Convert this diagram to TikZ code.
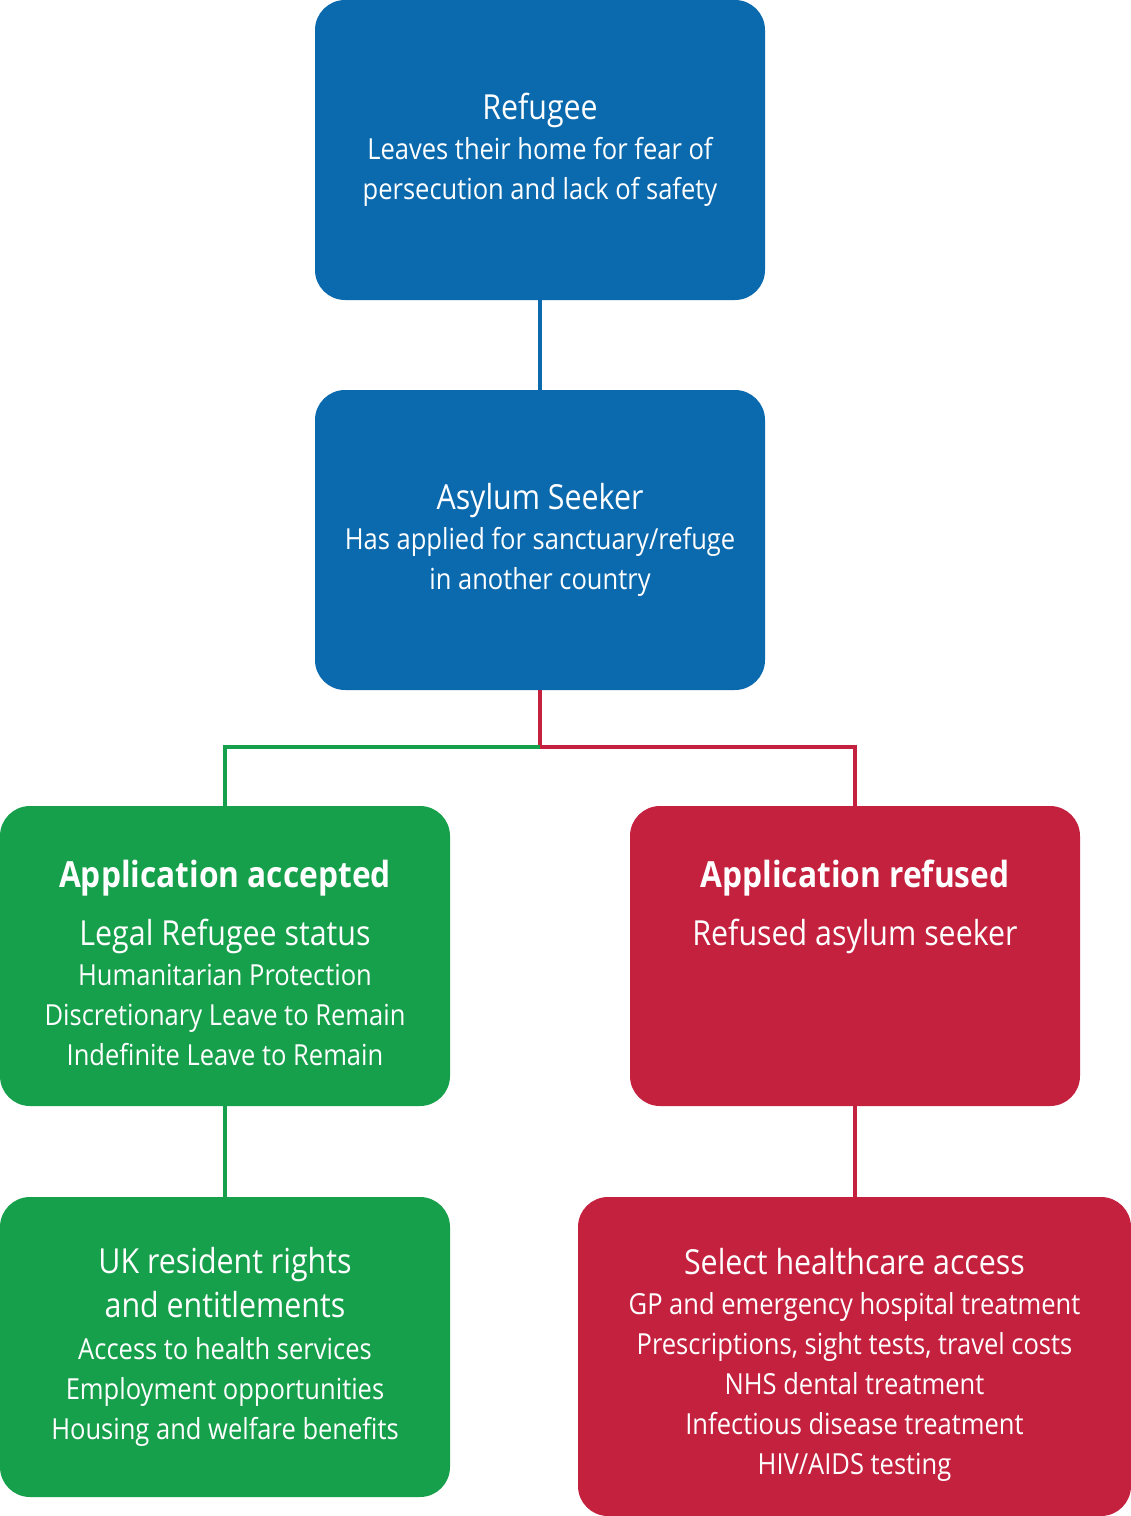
\documentclass[tikz,border=0pt]{standalone}
\usepackage{fontspec}
\setmainfont[FakeStretch=0.88]{Open Sans}
\usepackage{tikz}
\usetikzlibrary{positioning}
\definecolor{nhsblue}{RGB}{11,105,173}
\definecolor{nhsgreen}{RGB}{23,160,75}
\definecolor{nhsred}{RGB}{196,33,63}
\newcommand{\boxtitle}[1]{{\fontsize{34.5}{42}\selectfont #1}}
\newcommand{\boxhead}[1]{{\fontsize{36}{42}\selectfont\bfseries #1}}

\begin{document}
\begin{tikzpicture}[x=1pt, y=-1pt,
    card/.style={rounded corners=30pt, inner sep=0pt, text=white, align=center,
                 minimum width=450pt, minimum height=300pt,
                 font=\fontsize{29}{40}\selectfont},
    cardtext/.style={text=white, align=center, inner sep=0pt, font=\fontsize{29}{40}\selectfont},
    bluecard/.style={card, fill=nhsblue},
    greencard/.style={card, fill=nhsgreen},
    redcard/.style={card, fill=nhsred},
    link/.style={line width=4pt}]
            \useasboundingbox (0,0) rectangle (1131,1516);

            \node[bluecard] (ref) at (540, 150) {\boxtitle{Refugee}\\Leaves their home for fear of\\persecution and lack of safety};
            \node[bluecard] (asy) at (540, 540) {\boxtitle{Asylum Seeker}\\Has applied for sanctuary/refuge\\in another country};
            \node[greencard] (acc) at (225, 956) {};
            \node[cardtext, below=54pt of acc.north] (acctxt) {\boxhead{Application accepted}\\[18pt]\boxtitle{Legal Refugee status}\\Humanitarian Protection\\Discretionary Leave to Remain\\Indefinite Leave to Remain};
            \node[redcard] (rfs) at (855, 956) {};
            \node[cardtext, below=54pt of rfs.north] (rfstxt) {\boxhead{Application refused}\\[18pt]\boxtitle{Refused asylum seeker}};
            \node[greencard] (uk) at (225, 1347) {\boxtitle{UK resident rights}\\[4pt]\boxtitle{and entitlements}\\[2pt]Access to health services\\Employment opportunities\\Housing and welfare benefits};
            \node[redcard, minimum width=553pt, minimum height=319pt] (sel) at (854.5, 1356.5) {};
            \node[cardtext, yshift=-8pt] (seltxt) at (sel.center) {\boxtitle{Select healthcare access}\\GP and emergency hospital treatment\\Prescriptions, sight tests, travel costs\\NHS dental treatment\\Infectious disease treatment\\HIV/AIDS testing};

            \coordinate (split) at (540, 747);

            \draw [link, nhsblue] (ref) -- (asy);
            \draw [link, nhsred] (asy) -- (split) -| (rfs);
            \draw [link, nhsgreen] (split) -| (acc);
            \draw [link, nhsgreen] (acc) -- (uk);
            \draw [link, nhsred] (rfs) -- (rfs |- sel.north);
        \end{tikzpicture}
\end{document}
